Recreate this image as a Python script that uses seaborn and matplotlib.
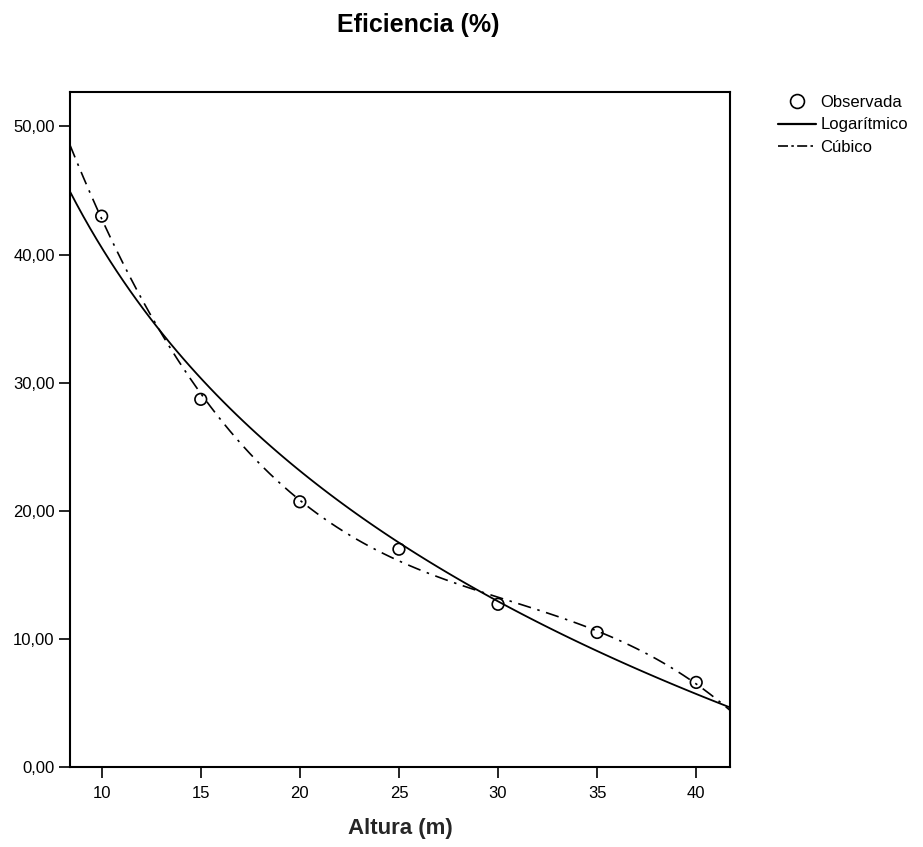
import numpy as np
import pandas as pd
import matplotlib
matplotlib.use('Agg')
import matplotlib.pyplot as plt
import matplotlib.ticker as mticker
from matplotlib.lines import Line2D
import seaborn as sns

# observed efficiency vs height
altura = [10, 15, 20, 25, 30, 35, 40]
eficiencia = [43.0, 28.7, 20.7, 17.0, 12.7, 10.5, 6.6]
df = pd.DataFrame({'Altura': altura, 'Eficiencia': eficiencia})

sns.set_style('white')
plt.rcParams['font.family'] = ['Liberation Sans', 'DejaVu Sans']
plt.rcParams['text.color'] = 'black'
plt.rcParams['xtick.color'] = 'black'
plt.rcParams['ytick.color'] = 'black'

dashdot = (0, (8, 4, 1.5, 4))

fig = plt.figure(figsize=(9.23, 8.47), dpi=100)
ax = fig.add_axes([0.0758, 0.0945, 0.715, 0.797])
ax.set_xlim(8.4, 41.7)
ax.set_ylim(0, 52.7)

# fitted curves (logarithmic and cubic), extended over the whole axis
sns.regplot(data=df, x='Altura', y='Eficiencia', logx=True, ci=None, scatter=False,
            truncate=False, ax=ax, line_kws={'color': 'black', 'lw': 1.3, 'ls': '-'})
sns.regplot(data=df, x='Altura', y='Eficiencia', order=3, ci=None, scatter=False,
            truncate=False, ax=ax, line_kws={'color': 'black', 'lw': 1.2, 'ls': dashdot})
sns.scatterplot(data=df, x='Altura', y='Eficiencia', ax=ax, marker='o', s=70,
                facecolor='none', edgecolor='black', linewidth=1.2, zorder=5)

ax.set_xlim(8.4, 41.7)
ax.set_ylim(0, 52.7)
ax.set_xticks([10, 15, 20, 25, 30, 35, 40])
ax.set_yticks([0, 10, 20, 30, 40, 50])
ax.yaxis.set_major_formatter(mticker.FuncFormatter(lambda v, p: f"{v:.2f}".replace('.', ',')))
ax.tick_params(axis='both', direction='out', length=8, width=1.2, color='black',
               labelsize=12, left=True, bottom=True)
ax.tick_params(axis='x', pad=6)
ax.tick_params(axis='y', pad=3)
for s in ax.spines.values():
    s.set_color('black')
    s.set_linewidth(1.5)

ax.set_xlabel('Altura (m)', fontsize=16, fontweight='bold', labelpad=12)
ax.set_ylabel('')
fig.text(0.453, 0.970, 'Eficiencia (%)', ha='center', va='center', fontsize=18, fontweight='bold')

handles = [
    Line2D([], [], marker='o', ls='none', mfc='none', mec='black', ms=10, mew=1.2),
    Line2D([], [], color='black', lw=1.6, ls='-'),
    Line2D([], [], color='black', lw=1.2, ls=(0, (6, 2, 1.5, 2))),
]
fig.legend(handles, ['Observada', 'Logarítmico', 'Cúbico'], loc='upper left',
           bbox_to_anchor=(0.843, 0.888), frameon=False, fontsize=12,
           borderpad=0, borderaxespad=0,
           handlelength=2.3, handletextpad=0.25, labelspacing=0.45)

fig.savefig('out.png', dpi=100)
